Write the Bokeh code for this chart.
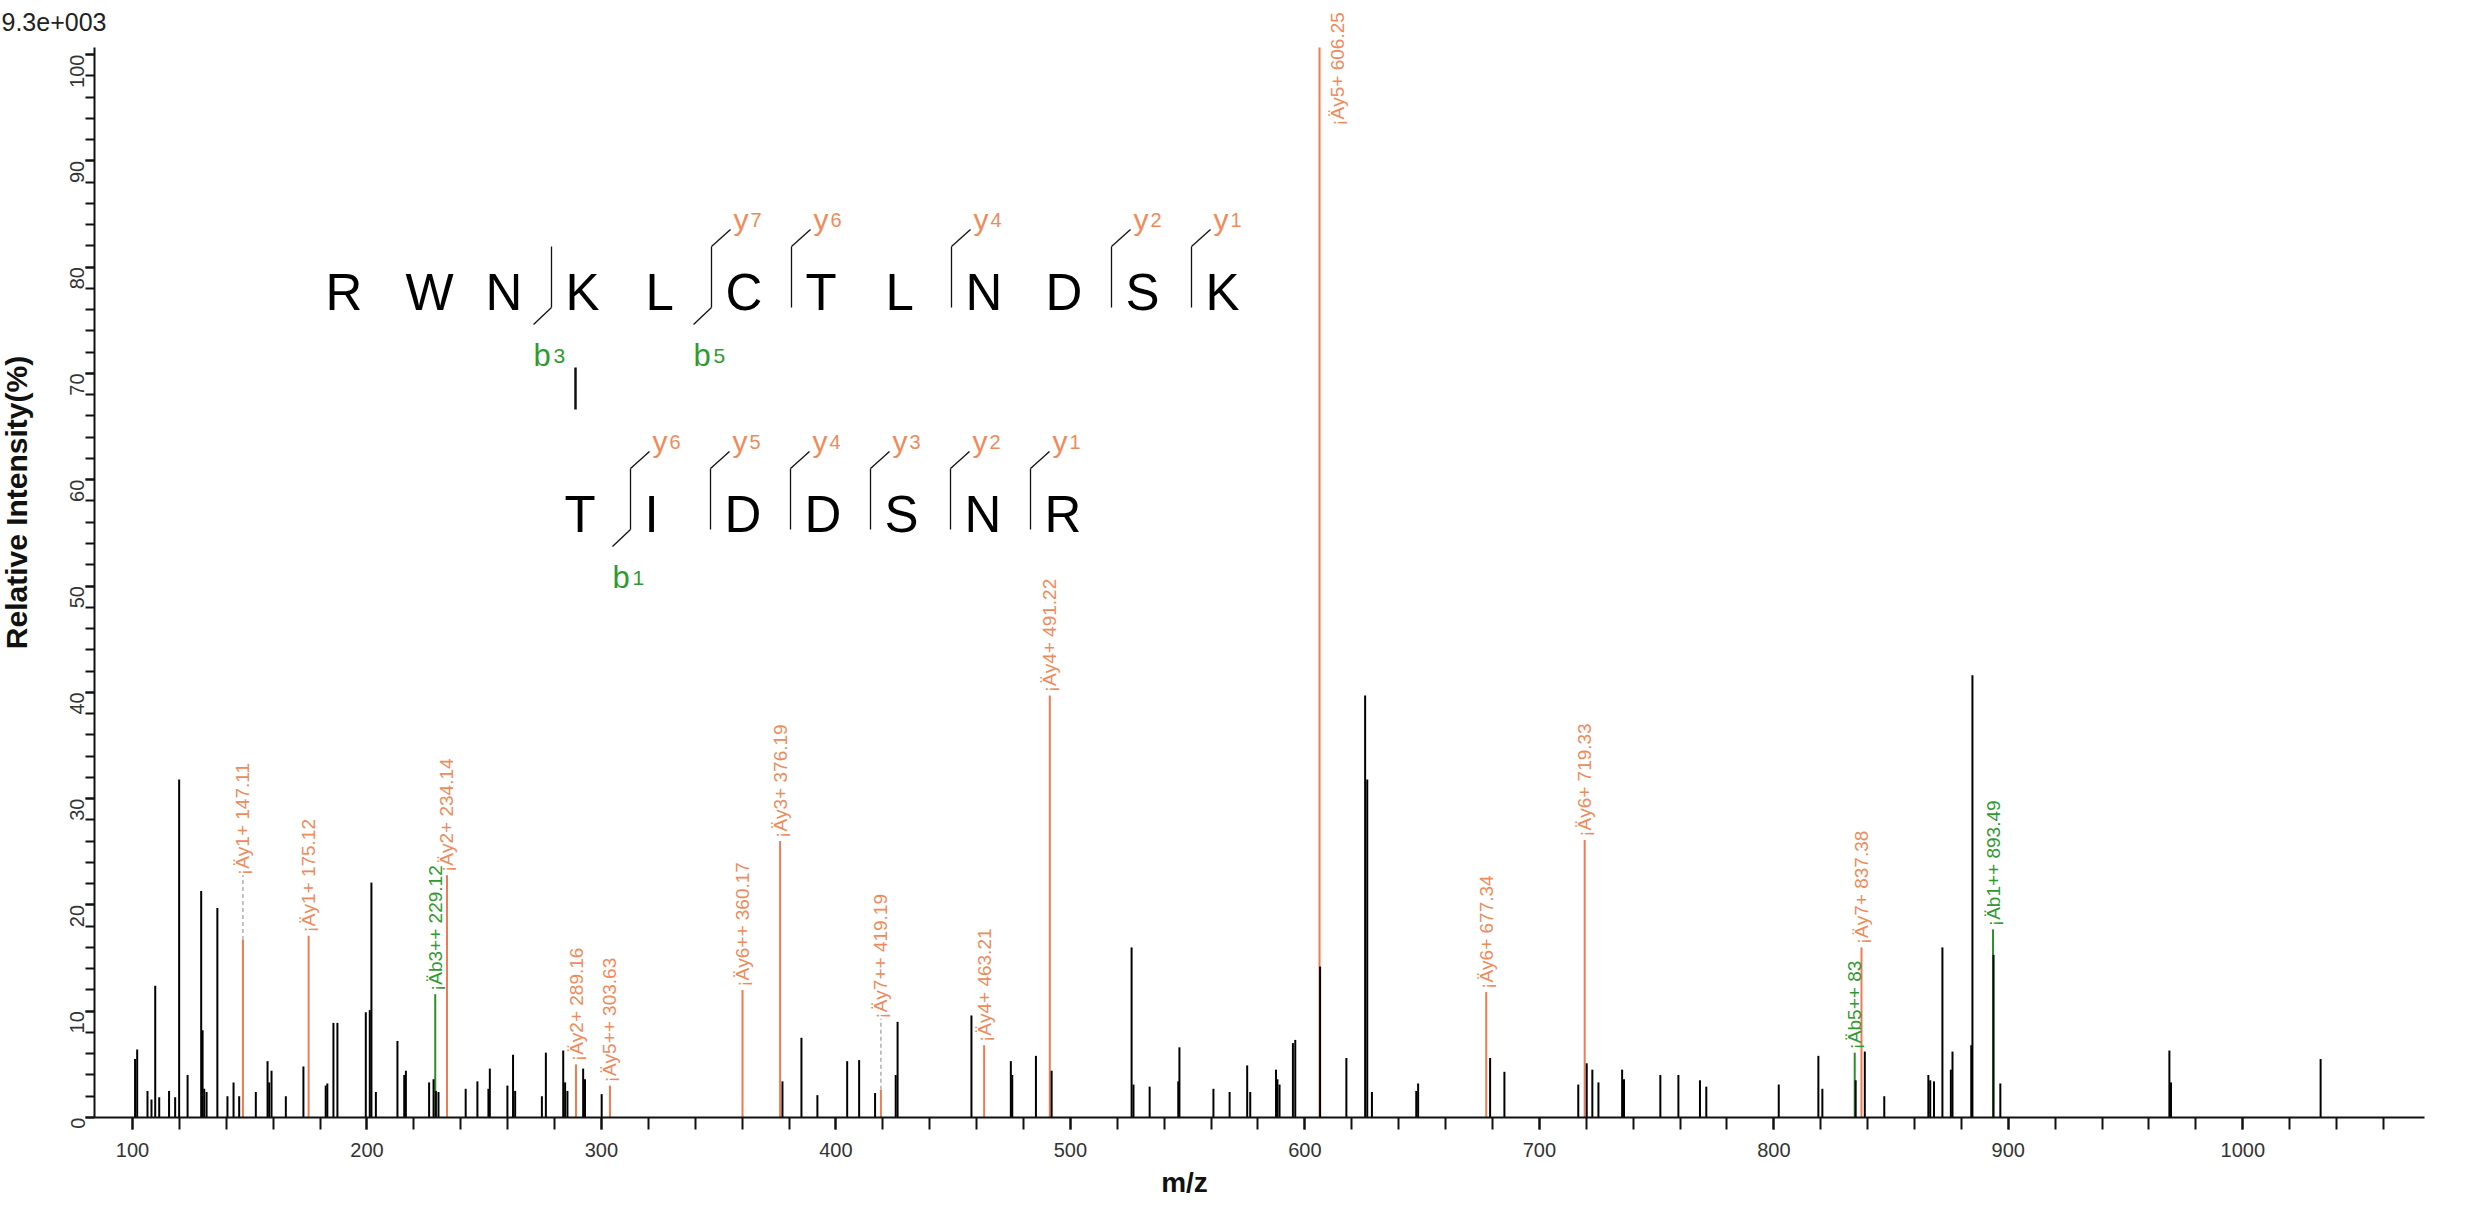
import math
from bokeh.plotting import figure
from bokeh.models import Range1d, SingleIntervalTicker, ColumnDataSource, LabelSet, Label
from bokeh.core.properties import value
from bokeh.embed import file_html
from bokeh.resources import INLINE

# ---------------- data ----------------
black_mz = [101.1, 102.0, 106.4, 108.1, 109.7, 111.4, 115.6, 118.2, 119.9, 123.5,
            129.3, 129.9, 130.6, 131.6, 136.2, 140.5, 143.1, 145.5, 152.6, 157.6,
            158.3, 159.3, 165.4, 172.9, 182.4, 183.1, 185.7, 187.4, 199.5, 201.2,
            201.9, 203.8, 213.0, 215.9, 216.6, 226.5, 228.4, 229.4, 230.5, 242.1,
            247.1, 251.8, 252.4, 259.9, 262.3, 263.2, 274.6, 276.3, 283.7, 284.5,
            285.5, 292.2, 293.0, 300.1,
            377.2, 385.3, 392.1, 404.8, 409.9, 416.7, 425.5, 426.3, 457.8, 474.6,
            475.2, 485.3, 492.0, 526.1, 526.9, 533.8, 546.0, 546.5, 561.0, 567.9,
            575.4, 576.7, 587.7, 588.3, 589.2, 594.9, 595.9, 606.5, 617.7, 625.7,
            626.6, 628.6,
            647.5, 648.3, 679.0, 685.1, 716.6, 720.2, 722.6, 725.2, 735.3, 736.1,
            751.6, 759.3, 768.5, 771.2, 802.1, 819.0, 820.7, 834.9, 838.8, 847.1,
            865.9, 866.7, 868.3, 871.9, 875.5, 876.2, 884.2, 884.7, 893.7, 896.6,
            968.7, 969.4, 1033.2]
black_int = [5.5, 6.4, 2.5, 1.7, 12.4, 1.9, 2.5, 1.9, 31.8, 4.0,
             21.3, 8.2, 2.7, 2.4, 19.7, 2.0, 3.3, 2.0, 2.4, 5.3,
             3.3, 4.4, 2.0, 4.8, 3.0, 3.2, 8.9, 8.9, 9.9, 10.1,
             22.1, 2.4, 7.2, 4.0, 4.4, 3.3, 3.6, 2.5, 2.4, 2.7,
             3.4, 2.7, 4.6, 3.0, 5.9, 2.5, 2.0, 6.1, 6.3, 3.3,
             2.5, 4.6, 3.6, 2.2,
             3.4, 7.5, 2.1, 5.3, 5.4, 2.3, 4.0, 9.0, 9.6, 5.3,
             4.0, 5.8, 4.4, 16.0, 3.1, 2.9, 3.4, 6.6, 2.7, 2.4,
             4.9, 2.4, 4.5, 3.6, 3.1, 7.0, 7.3, 14.2, 5.6, 39.7,
             31.8, 2.4,
             2.5, 3.2, 5.6, 4.3, 3.1, 5.1, 4.5, 3.3, 4.5, 3.6,
             4.0, 4.0, 3.5, 2.9, 3.1, 5.8, 2.7, 3.5, 6.2, 2.0,
             4.0, 3.5, 3.4, 16.0, 4.5, 6.2, 6.8, 41.6, 15.3, 3.2,
             6.3, 3.3, 5.5]

ann_mz = [147.11, 175.12, 229.12, 234.14, 289.16, 303.63, 360.17, 376.19, 419.19,
          463.21, 491.22, 606.25, 677.34, 719.33, 834.5, 837.38, 893.49]
ann_int = [16.7, 17.1, 11.6, 22.8, 5.0, 3.0, 12.0, 26.0, 2.6,
           6.8, 39.7, 100.66, 11.8, 26.1, 6.1, 16.0, 17.7]
ann_label_at = [22.8, 17.4, 11.9, 23.1, 5.3, 3.3, 12.3, 26.3, 9.3,
                7.1, 40.0, 93.3, 12.1, 26.4, 6.4, 16.3, 18.0]
ann_text = ["¡Äy1+ 147.11", "¡Äy1+ 175.12", "¡Äb3++ 229.12", "¡Äy2+ 234.14",
            "¡Äy2+ 289.16", "¡Äy5++ 303.63", "¡Äy6++ 360.17", "¡Äy3+ 376.19",
            "¡Äy7++ 419.19", "¡Äy4+ 463.21", "¡Äy4+ 491.22", "¡Äy5+ 606.25",
            "¡Äy6+ 677.34", "¡Äy6+ 719.33", "¡Äb5++ 83", "¡Äy7+ 837.38",
            "¡Äb1++ 893.49"]
ann_kind = ["y", "y", "b", "y", "y", "y", "y", "y", "y",
            "y", "y", "y", "y", "y", "b", "y", "b"]

x_ticks_interval = 100
y_ticks_interval = 10
scale_text = "9.3e+003"
x_title = "m/z"
y_title = "Relative Intensity(%)"

seq1 = list("RWNKLCTLNDSK")
seq2 = list("TIDDSNR")
y_breaks1 = [5, 6, 8, 10, 11]
b_breaks1 = [3, 5]
y_breaks2 = [1, 2, 3, 4, 5, 6]
b_breaks2 = [1]
link_index1 = 3

# ---------------- layout ----------------
ORANGE = "#F08A5B"
ORANGE_LINE = "#EE7B52"
GREEN = "#2F9A2F"
GREEN_LINE = "#2A8F2A"
FONT = "Liberation Sans"

# visible axis extents (data) and where they sit on the canvas (px)
X0, X1 = 83.8, 1077.5
Y0, Y1 = 0.0, 100.66
W, H = 2454, 1199
AX_LEFT, AX_TOP, AX_RIGHT, AX_BOTTOM = 94, 47, 2424, 1117
KX = (X1 - X0) / (AX_RIGHT - AX_LEFT)
KY = (Y1 - Y0) / (AX_BOTTOM - AX_TOP)
# the plotting frame covers the whole canvas so no text is clipped
XR = (X0 - AX_LEFT * KX, X0 + (W - AX_LEFT) * KX)
YR = (Y1 - (H - AX_TOP) * KY, Y1 + AX_TOP * KY)


def dx(px):
    """page pixel x -> data x"""
    return X0 + (px - 8 - AX_LEFT) * KX


def dy(py):
    """page pixel y -> data y"""
    return Y1 - (py - 8 - AX_TOP) * KY


p = figure(width=W, height=H, output_backend="svg", toolbar_location=None,
           x_range=Range1d(*XR), y_range=Range1d(*YR),
           min_border_left=0, min_border_top=0, min_border_right=0,
           min_border_bottom=0)
p.title.visible = False
p.xgrid.visible = False
p.ygrid.visible = False
p.outline_line_color = None
p.background_fill_color = "white"
p.border_fill_color = "white"

p.xaxis.ticker = SingleIntervalTicker(interval=x_ticks_interval, num_minor_ticks=5)
p.yaxis.ticker = SingleIntervalTicker(interval=y_ticks_interval, num_minor_ticks=5)
p.xaxis.fixed_location = Y0
p.yaxis.fixed_location = X0
p.xaxis.bounds = (X0, X1)
p.yaxis.bounds = (Y0, Y1)
for ax in (p.xaxis[0], p.yaxis[0]):
    ax.axis_line_width = 2
    ax.axis_line_color = "#111111"
    ax.major_tick_line_width = 2
    ax.minor_tick_line_width = 2
    ax.major_tick_line_color = "#111111"
    ax.minor_tick_line_color = "#111111"
    ax.major_tick_in = 0
    ax.minor_tick_in = 0
    ax.major_label_text_font = FONT
    ax.major_label_text_font_size = "20px"
    ax.major_label_text_color = "#333333"
p.xaxis.major_tick_out = 12
p.xaxis.minor_tick_out = 12
p.xaxis.major_label_standoff = 13
p.yaxis.major_tick_out = 9
p.yaxis.minor_tick_out = 9
p.yaxis.major_label_standoff = 8
p.yaxis.major_label_orientation = math.pi / 2

# colored annotated peaks
ann_line_colors = [ORANGE_LINE if k == "y" else GREEN_LINE for k in ann_kind]
p.segment(x0=ann_mz, y0=[0] * len(ann_mz), x1=ann_mz, y1=ann_int,
          line_color=ann_line_colors, line_width=2)
# dashed connectors where label is raised above the peak
dash_x = [m for m, a, l in zip(ann_mz, ann_int, ann_label_at) if l > a + 1]
dash_y0 = [a for m, a, l in zip(ann_mz, ann_int, ann_label_at) if l > a + 1]
dash_y1 = [l for m, a, l in zip(ann_mz, ann_int, ann_label_at) if l > a + 1]
p.segment(x0=dash_x, y0=dash_y0, x1=dash_x, y1=dash_y1,
          line_color="#9a9a9a", line_width=1.2, line_dash="4 3")

# black peaks
p.segment(x0=black_mz, y0=[0] * len(black_mz), x1=black_mz, y1=black_int,
          line_color="black", line_width=2)

# rotated peak labels
lab_src = ColumnDataSource(dict(
    x=ann_mz, y=ann_label_at, text=ann_text,
    color=[ORANGE if k == "y" else GREEN for k in ann_kind],
    xo=[18 if a >= 99 else 0 for a in ann_int]))
p.add_layout(LabelSet(x="x", y="y", text="text", source=lab_src,
                      angle=math.pi / 2, text_align="left", text_baseline="middle",
                      x_offset="xo", text_color="color",
                      text_font=value(FONT), text_font_size="19px"))

# ---------------- sequence diagram ----------------
ROW1_LEFT, ROW2_LEFT, STEP = 333, 572, 80
ROW1_BASE, ROW2_BASE = 300, 522
LETTER_SIZE = "51px"


def draw_row(seq, left0, base, y_breaks, b_breaks):
    lx = [dx(left0 + STEP * i) for i in range(len(seq))]
    p.text(x=lx, y=[dy(base)] * len(seq), text=seq, text_align="left",
           text_baseline="alphabetic", text_font=value(FONT),
           text_font_size=LETTER_SIZE, text_color="black")
    n = len(seq)
    top, bot = base - 46, base + 15
    seps = sorted(set(y_breaks) | set(b_breaks))
    sx = [left0 + STEP * i - 14 for i in seps]
    p.segment(x0=[dx(s) for s in sx], y0=[dy(top)] * len(sx),
              x1=[dx(s) for s in sx], y1=[dy(bot)] * len(sx),
              line_color="#111111", line_width=1.3)
    # y-ion marks
    ys = [left0 + STEP * i - 14 for i in y_breaks]
    p.segment(x0=[dx(s) for s in ys], y0=[dy(top)] * len(ys),
              x1=[dx(s + 19) for s in ys], y1=[dy(top - 17)] * len(ys),
              line_color="#111111", line_width=1.3)
    p.text(x=[dx(s + 22) for s in ys], y=[dy(top - 27)] * len(ys), text=["y"] * len(ys),
           text_align="left", text_baseline="alphabetic", text_font=value(FONT),
           text_font_size="30px", text_color=ORANGE)
    p.text(x=[dx(s + 39) for s in ys], y=[dy(top - 27)] * len(ys),
           text=[str(n - i) for i in y_breaks],
           text_align="left", text_baseline="alphabetic", text_font=value(FONT),
           text_font_size="20px", text_color=ORANGE)
    # b-ion marks
    bs = [left0 + STEP * i - 14 for i in b_breaks]
    p.segment(x0=[dx(s) for s in bs], y0=[dy(bot)] * len(bs),
              x1=[dx(s - 18) for s in bs], y1=[dy(bot + 17)] * len(bs),
              line_color="#111111", line_width=1.3)
    p.text(x=[dx(s - 18) for s in bs], y=[dy(bot + 48)] * len(bs), text=["b"] * len(bs),
           text_align="left", text_baseline="alphabetic", text_font=value(FONT),
           text_font_size="31px", text_color=GREEN)
    p.text(x=[dx(s + 2) for s in bs], y=[dy(bot + 48)] * len(bs),
           text=[str(i) for i in b_breaks],
           text_align="left", text_baseline="alphabetic", text_font=value(FONT),
           text_font_size="21px", text_color=GREEN)


draw_row(seq1, ROW1_LEFT, ROW1_BASE, y_breaks1, b_breaks1)
draw_row(seq2, ROW2_LEFT, ROW2_BASE, y_breaks2, b_breaks2)
link_x = dx(ROW1_LEFT + STEP * link_index1 + 10)
p.segment(x0=[link_x], y0=[dy(375)], x1=[link_x], y1=[dy(417)],
          line_color="#111111", line_width=2.5)

# ---------------- titles ----------------
p.add_layout(Label(x=dx(9), y=dy(29), text=scale_text, text_align="left",
                   text_baseline="alphabetic", text_font=FONT,
                   text_font_size="25px", text_color="#222222"))
p.add_layout(Label(x=dx(1192), y=dy(1190), text=x_title, text_align="center",
                   text_baseline="middle", text_font=FONT,
                   text_font_size="28px", text_font_style="bold", text_color="#111111"))
p.add_layout(Label(x=dx(24), y=dy(510), text=y_title, text_align="center",
                   text_baseline="middle", angle=math.pi / 2, text_font=FONT,
                   text_font_size="30px", text_font_style="bold", text_color="#111111"))

open("out.html", "w").write(file_html(p, INLINE))
